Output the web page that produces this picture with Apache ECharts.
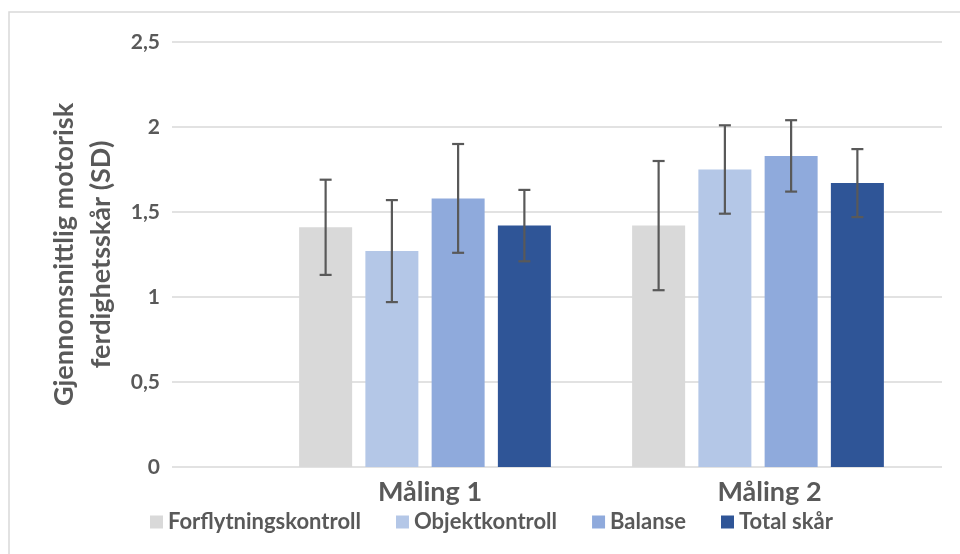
<!DOCTYPE html>
<html>
<head>
<meta charset="utf-8">
<script src="https://cdn.jsdelivr.net/npm/echarts@6/dist/echarts.min.js"></script>
<style>
html,body{margin:0;padding:0;background:#fff;}
#chart{width:960px;height:554px;}
</style>
</head>
<body>
<div id="chart"></div>
<script>
// ---- data ----
const CATEGORIES = ['Måling 1', 'Måling 2'];
const SERIES_NAMES = ['Forflytningskontroll', 'Objektkontroll', 'Balanse', 'Total skår'];
const MEAN_FORFLYTNING = [1.41, 1.42];
const MEAN_OBJEKT = [1.27, 1.75];
const MEAN_BALANSE = [1.58, 1.83];
const MEAN_TOTAL = [1.42, 1.67];
const SD_FORFLYTNING = [0.28, 0.38];
const SD_OBJEKT = [0.30, 0.26];
const SD_BALANSE = [0.32, 0.21];
const SD_TOTAL = [0.21, 0.20];
const Y_TICK_LABELS = ['0', '0,5', '1', '1,5', '2', '2,5'];
const Y_TITLE = 'Gjennomsnittlig motorisk\nferdighetsskår (SD)';

// ---- styling ----
const COLORS = ['#D9D9D9', '#B4C7E7', '#8FAADC', '#2F5597'];
const TEXT = '#595959';
const GRIDC = '#D9D9D9';
const FONT = 'Lato, "Open Sans", sans-serif';
const BAR_W = 53;
const BAR_GAP = 13.25;

const MEANS = [MEAN_FORFLYTNING, MEAN_OBJEKT, MEAN_BALANSE, MEAN_TOTAL];
const SDS = [SD_FORFLYTNING, SD_OBJEKT, SD_BALANSE, SD_TOTAL];

const chart = echarts.init(document.getElementById('chart'), null, {renderer: 'canvas'});

const series = [];
SERIES_NAMES.forEach((name, i) => {
  series.push({
    name: name,
    type: 'bar',
    xAxisIndex: 1,
    yAxisIndex: 1,
    barWidth: BAR_W,
    barGap: (BAR_GAP / BAR_W * 100) + '%',
    itemStyle: {color: COLORS[i]},
    data: MEANS[i],
    z: 2
  });
});
SERIES_NAMES.forEach((name, i) => {
  series.push({
    name: 'err' + i,
    type: 'custom',
    xAxisIndex: 1,
    yAxisIndex: 1,
    z: 5,
    data: MEANS[i].map((m, k) => [k, m, SDS[i][k]]),
    renderItem: function (params, api) {
      const k = api.value(0), m = api.value(1), sd = api.value(2);
      const c = api.coord([k, m]);
      const hi = api.coord([k, m + sd]);
      const lo = api.coord([k, m - sd]);
      const x = c[0] + (i - 1.5) * (BAR_W + BAR_GAP);
      const st = {stroke: '#595959', lineWidth: 2.2};
      return {
        type: 'group',
        children: [
          {type: 'line', shape: {x1: x, y1: hi[1], x2: x, y2: lo[1]}, style: st},
          {type: 'line', shape: {x1: x - 6, y1: hi[1], x2: x + 6, y2: hi[1]}, style: st},
          {type: 'line', shape: {x1: x - 6, y1: lo[1], x2: x + 6, y2: lo[1]}, style: st}
        ]
      };
    }
  });
});

const option = {
  backgroundColor: '#fff',
  animation: false,
  graphic: [{
    type: 'rect',
    shape: {x: 9, y: 12, width: 1000, height: 600},
    style: {fill: 'none', stroke: '#D9D9D9', lineWidth: 1.5},
    z: -1
  }],
  grid: [
    {left: 172, right: 18, top: 42, bottom: 87},
    {left: 258.5, right: 35.5, top: 42, bottom: 87}
  ],
  xAxis: [
    {gridIndex: 0, type: 'category', data: CATEGORIES, show: false},
    {
      gridIndex: 1, type: 'category', data: CATEGORIES,
      axisLine: {show: false}, axisTick: {show: false},
      axisLabel: {
        margin: 12,
        formatter: function (v, idx) { return idx === 0 ? '{a|' + v + '}' : '{b|' + v + '}'; },
        rich: {
          a: {padding: [0, 0, 0, 10], fontSize: 27, fontWeight: 'bold', color: TEXT, fontFamily: FONT},
          b: {padding: [0, 0, 0, 23], fontSize: 27, fontWeight: 'bold', color: TEXT, fontFamily: FONT}
        },
        color: TEXT, fontSize: 27, fontWeight: 'bold', fontFamily: FONT
      }
    }
  ],
  yAxis: [
    {
      gridIndex: 0, type: 'value', min: 0, max: 2.5, interval: 0.5,
      axisLine: {show: false}, axisTick: {show: false},
      splitLine: {lineStyle: {color: GRIDC, width: 1.5}},
      axisLabel: {
        margin: 12, color: TEXT, fontSize: 21, fontWeight: 'bold', fontFamily: FONT,
        formatter: function (v) { return Y_TICK_LABELS[Math.round(v / 0.5)]; }
      },
      name: Y_TITLE,
      nameLocation: 'middle',
      nameRotate: 90,
      nameGap: 52,
      nameTextStyle: {color: TEXT, fontSize: 27, fontWeight: 'bold', fontFamily: FONT, lineHeight: 37, align: 'center'}
    },
    {
      gridIndex: 1, type: 'value', min: 0, max: 2.5, interval: 0.5, show: false,
      splitLine: {show: false}
    }
  ],
  legend: {
    data: SERIES_NAMES,
    left: 150,
    top: 509,
    padding: 0,
    icon: 'rect',
    itemWidth: 13,
    itemHeight: 13,
    itemGap: 35,
    textStyle: {color: TEXT, fontSize: 22, fontWeight: 'bold', fontFamily: FONT, lineHeight: 26}
  },
  series: series
};
chart.setOption(option);
</script>
</body>
</html>
